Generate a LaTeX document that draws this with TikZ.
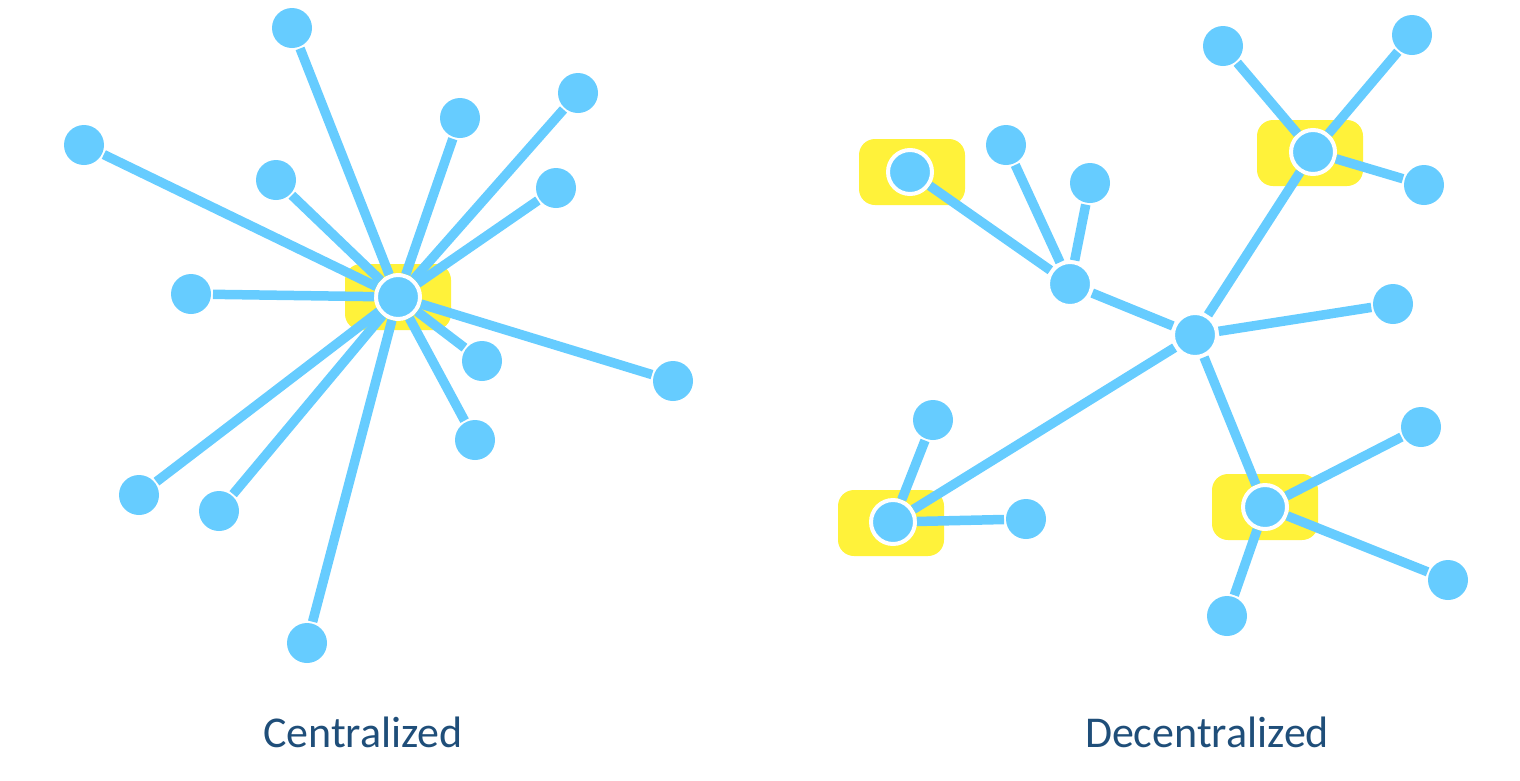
\documentclass[tikz,border=0pt]{standalone}
\usepackage{fontspec}
\setmainfont{Carlito}
\definecolor{nodeblue}{HTML}{66CCFF}
\definecolor{hiyellow}{HTML}{FFF23A}
\definecolor{labelblue}{HTML}{1F4E79}
\begin{document}
\begin{tikzpicture}[x=1pt,y=-1pt,
  leaf/.style={circle,fill=nodeblue,inner sep=0pt,minimum size=40pt,outer sep=2pt},
  hub/.style={circle,fill=nodeblue,draw=white,line width=4pt,inner sep=0pt,minimum size=44pt},
  glow/.style={rectangle,rounded corners=16pt,fill=hiyellow,inner sep=0pt,minimum width=106pt,minimum height=66pt},
  link/.style={draw=nodeblue,line width=9.5pt},
  lbl/.style={text=labelblue,font=\fontsize{44pt}{48pt}\selectfont}]
\useasboundingbox (0,0) rectangle (1520,780);
% ---------- Centralized ----------
\node[glow] (cg) at (398,297) {};
\node[hub] (c) at (398,297) {};
\node[leaf] (c1) at (292,28) {};
\node[leaf] (c2) at (84,145) {};
\node[leaf] (c3) at (460,118) {};
\node[leaf] (c4) at (578,93) {};
\node[leaf] (c5) at (276,180) {};
\node[leaf] (c6) at (556,188) {};
\node[leaf] (c7) at (191,294) {};
\node[leaf] (c8) at (482,361) {};
\node[leaf] (c9) at (673,381) {};
\node[leaf] (c10) at (475,440) {};
\node[leaf] (c11) at (139,495) {};
\node[leaf] (c12) at (219,511) {};
\node[leaf] (c13) at (307,643) {};
\foreach \i in {1,...,13} {\draw[link] (c) -- (c\i);}
\node[lbl] (lc) at (363,732) {Centralized};
% ---------- Decentralized ----------
\node[glow] (ga) at (912,172) {};
\node[glow] (gb) at (1310,153) {};
\node[glow] (gc) at (891,523) {};
\node[glow] (ge) at (1265,507) {};
\node[hub] (d0) at (1195,335) {};
\node[hub] (da) at (1070,284) {};
\node[hub] (dh) at (910,172) {};
\node[hub] (db) at (1313,152) {};
\node[hub] (dc) at (893,522) {};
\node[hub] (de) at (1265,507) {};
\node[leaf] (a1) at (1006,145) {};
\node[leaf] (a2) at (1090,183) {};
\node[leaf] (b1) at (1223,46) {};
\node[leaf] (b2) at (1412,35) {};
\node[leaf] (b3) at (1424,185) {};
\node[leaf] (cc1) at (933,420) {};
\node[leaf] (cc2) at (1026,519) {};
\node[leaf] (e1) at (1421,427) {};
\node[leaf] (e2) at (1448,580) {};
\node[leaf] (e3) at (1227,616) {};
\node[leaf] (d1) at (1393,304) {};
\draw[link] (d0) -- (da);
\draw[link] (d0) -- (db);
\draw[link] (d0) -- (dc);
\draw[link] (d0) -- (de);
\draw[link] (d0) -- (d1);
\draw[link] (da) -- (dh);
\draw[link] (da) -- (a1);
\draw[link] (da) -- (a2);
\draw[link] (db) -- (b1);
\draw[link] (db) -- (b2);
\draw[link] (db) -- (b3);
\draw[link] (dc) -- (cc1);
\draw[link] (dc) -- (cc2);
\draw[link] (de) -- (e1);
\draw[link] (de) -- (e2);
\draw[link] (de) -- (e3);
\node[lbl] (ld) at (1207,732) {Decentralized};
\end{tikzpicture}
\end{document}
